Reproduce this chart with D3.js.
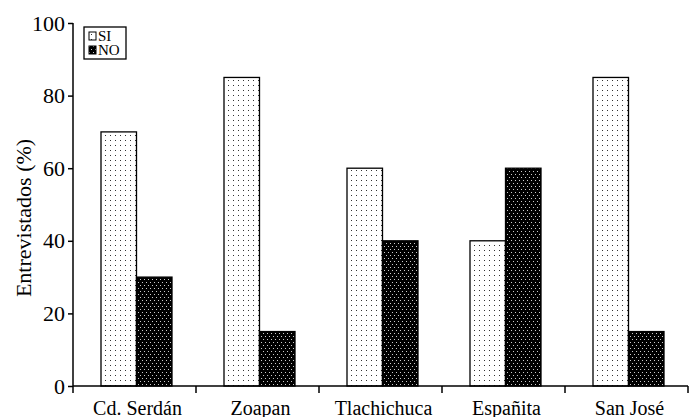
<!DOCTYPE html>
<html>
<head>
<meta charset="utf-8">
<script src="https://cdn.jsdelivr.net/npm/d3@7"></script>
<style>
  body { margin: 0; background: #fff; }
  svg, svg text { font-family: "Liberation Serif"; }
</style>
</head>
<body>
<div id="chart"></div>
<script>
// Data
const sites = ["Cd. Serdán", "Zoapan", "Tlachichuca", "Españita", "San José"];
const siValues = [70, 85, 60, 40, 85];
const noValues = [30, 15, 40, 60, 15];
const seriesNames = ["SI", "NO"];
const yTicks = [0, 20, 40, 60, 80, 100];

const W = 697, H = 417;
const margin = { top: 23, right: 9, bottom: 31, left: 73 };
const width = W - margin.left - margin.right;
const height = H - margin.top - margin.bottom;

const svg = d3.select("#chart").append("svg")
    .attr("width", W)
    .attr("height", H);

// dot patterns
const defs = svg.append("defs");
const pSi = defs.append("pattern").attr("id", "pat-si")
    .attr("patternUnits", "userSpaceOnUse").attr("width", 5).attr("height", 5);
pSi.append("rect").attr("width", 5).attr("height", 5).attr("fill", "#fff");
pSi.append("rect").attr("x", 2).attr("y", 2).attr("width", 1).attr("height", 1).attr("fill", "#333");

const pNo = defs.append("pattern").attr("id", "pat-no")
    .attr("patternUnits", "userSpaceOnUse").attr("width", 4).attr("height", 6);
pNo.append("rect").attr("width", 4).attr("height", 6).attr("fill", "#000");
pNo.append("rect").attr("x", 1).attr("y", 1).attr("width", 1).attr("height", 1).attr("fill", "#ccc");
pNo.append("rect").attr("x", 3).attr("y", 4).attr("width", 1).attr("height", 1).attr("fill", "#ccc");

const fills = ["url(#pat-si)", "url(#pat-no)"];

const g = svg.append("g")
    .attr("transform", "translate(" + margin.left + "," + margin.top + ")");

const x0 = d3.scaleBand()
    .domain(sites)
    .range([0, width])
    .padding(0);

const x1 = d3.scaleBand()
    .domain(seriesNames)
    .range([28, x0.bandwidth() - 24])
    .padding(0);

const y = d3.scaleLinear()
    .domain([0, 100])
    .range([height, 0]);

const rows = sites.map((s, i) => ({ site: s, vals: [siValues[i], noValues[i]] }));

// bars
const groups = g.selectAll(".grp")
    .data(rows)
    .enter().append("g")
    .attr("transform", d => "translate(" + x0(d.site) + ",0)");

groups.selectAll("rect")
    .data(d => d.vals.map((v, k) => ({ key: seriesNames[k], value: v, k: k })))
    .enter().append("rect")
    .attr("x", d => x1(d.key))
    .attr("y", d => y(d.value))
    .attr("width", x1.bandwidth())
    .attr("height", d => height - y(d.value))
    .attr("fill", d => fills[d.k])
    .attr("stroke", "#000")
    .attr("stroke-width", 1.3);

// y axis
const yAxis = g.append("g")
    .call(d3.axisLeft(y).tickValues(yTicks).tickSize(5).tickPadding(3))
    .attr("font-family", null)
    .attr("font-size", 22);
yAxis.select(".domain").attr("stroke", "#000").attr("stroke-width", 1.5)
    .attr("d", "M0," + height + "V0");
yAxis.selectAll(".tick line").attr("stroke-width", 1.5);
yAxis.selectAll("text").attr("fill", "#000");

// x axis with ticks at band edges
const xAxis = g.append("g").attr("transform", "translate(0," + height + ")");
xAxis.append("line")
    .attr("x1", 0).attr("x2", width)
    .attr("stroke", "#000").attr("stroke-width", 1.5);
xAxis.selectAll(".edge")
    .data(sites.map(s => x0(s)).concat([width]))
    .enter().append("line")
    .attr("x1", d => d).attr("x2", d => d)
    .attr("y1", 0).attr("y2", 7)
    .attr("stroke", "#000").attr("stroke-width", 1.5);
xAxis.selectAll(".lbl")
    .data(sites)
    .enter().append("text")
    .attr("x", d => x0(d) + x0.bandwidth() / 2 + 3)
    .attr("y", 29)
    .attr("text-anchor", "middle")
    .attr("font-size", 20)
    .text(d => d);

// y title
svg.append("text")
    .attr("transform", "translate(31,218) rotate(-90)")
    .attr("text-anchor", "middle")
    .attr("font-size", 22)
    .text("Entrevistados (%)");

// legend
const leg = svg.append("g").attr("transform", "translate(84,27)");
leg.append("rect")
    .attr("width", 42).attr("height", 32)
    .attr("fill", "#fff").attr("stroke", "#000").attr("stroke-width", 1.3);
seriesNames.forEach((name, k) => {
    leg.append("rect")
        .attr("x", 5).attr("y", 5 + k * 14)
        .attr("width", 7).attr("height", 8)
        .attr("fill", fills[k]).attr("stroke", "#000").attr("stroke-width", 1);
    leg.append("text")
        .attr("x", 14).attr("y", 14 + k * 14)
        .attr("font-size", 15)
        .text(name);
});
</script>
</body>
</html>
